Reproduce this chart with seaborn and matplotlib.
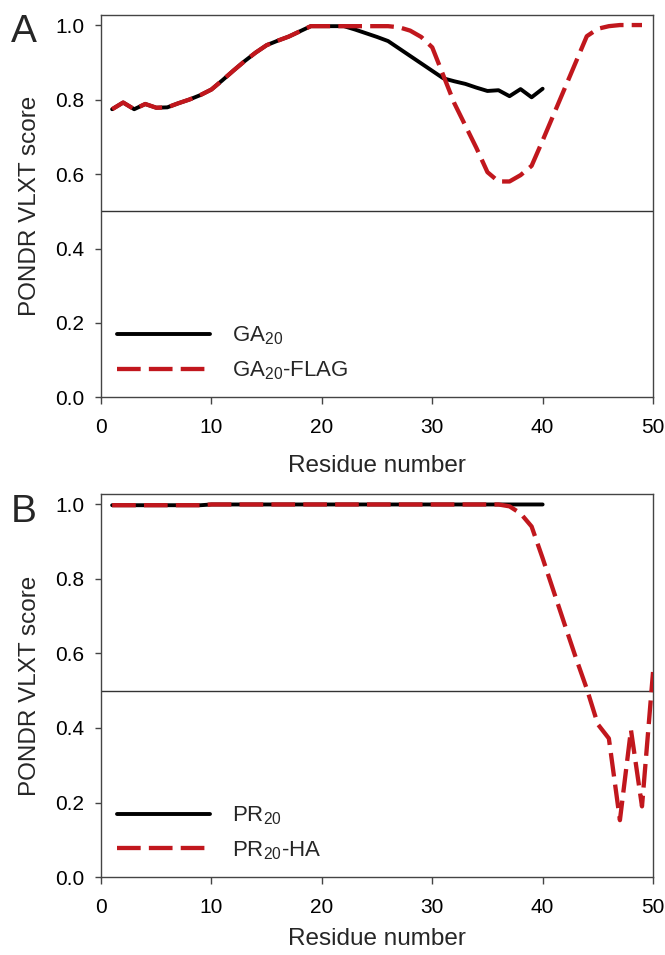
import matplotlib
matplotlib.use("Agg")
import matplotlib.pyplot as plt
import seaborn as sns
import pandas as pd
import numpy as np

# ---------------- data ----------------
ga20_x = list(range(1, 41))
ga20_y = [0.774, 0.792, 0.774, 0.788, 0.778, 0.779, 0.790, 0.800, 0.812, 0.827,
          0.852, 0.878, 0.903, 0.926, 0.946, 0.958, 0.969, 0.983, 0.997, 0.997,
          0.997, 0.997, 0.988, 0.978, 0.968, 0.957, 0.937, 0.917, 0.897, 0.877,
          0.857, 0.849, 0.842, 0.832, 0.823, 0.825, 0.809, 0.828, 0.806, 0.829]

ga20flag_x = list(range(1, 50))
ga20flag_y = [0.774, 0.792, 0.774, 0.788, 0.778, 0.779, 0.790, 0.800, 0.812, 0.827,
              0.852, 0.878, 0.903, 0.926, 0.946, 0.958, 0.969, 0.983, 0.997, 0.997,
              0.997, 0.997, 0.997, 0.997, 0.997, 0.997, 0.994, 0.985, 0.968, 0.940,
              0.865, 0.790, 0.730, 0.670, 0.605, 0.580, 0.580, 0.597, 0.622, 0.690,
              0.760, 0.830, 0.900, 0.970, 0.990, 0.997, 1.000, 1.000, 1.000]

pr20_x = list(range(1, 41))
pr20_y = [0.997] * 9 + [0.999] * 31

pr20ha_x = list(range(1, 51))
pr20ha_y = ([0.997] * 9 + [0.999] * 27 +
            [0.994, 0.975, 0.940, 0.855, 0.766, 0.677, 0.589, 0.505, 0.410, 0.372,
             0.153, 0.395, 0.190, 0.550])

x_ticks = [0, 10, 20, 30, 40, 50]
y_ticks = [0.0, 0.2, 0.4, 0.6, 0.8, 1.0]
threshold = 0.5

panels = [
    ("A", ga20_x, ga20_y, "GA$_{20}$", ga20flag_x, ga20flag_y, "GA$_{20}$-FLAG"),
    ("B", pr20_x, pr20_y, "PR$_{20}$", pr20ha_x, pr20ha_y, "PR$_{20}$-HA"),
]

# ---------------- style ----------------
sns.set_style("ticks")
plt.rcParams["font.family"] = ["Liberation Sans", "DejaVu Sans"]
plt.rcParams["mathtext.default"] = "regular"

RED = "#C1171D"
SPINE = "#444444"

fig = plt.figure(figsize=(6.65, 9.55), dpi=100)
rects = [[0.152, 0.5838, 0.830, 0.4005], [0.152, 0.0814, 0.830, 0.4013]]
letter_y = [0.985, 0.483]
xlabel_pads = [13, 8]

for (letter, x1, y1, l1, x2, y2, l2), rect, ly, xpad in zip(panels, rects, letter_y, xlabel_pads):
    ax = fig.add_axes(rect)
    df1 = pd.DataFrame({"Residue": x1, "Score": y1})
    df2 = pd.DataFrame({"Residue": x2, "Score": y2})
    ax.axhline(threshold, color="#333333", lw=1.0, zorder=1)
    sns.lineplot(data=df1, x="Residue", y="Score", ax=ax, color="black",
                 lw=2.8, label=l1, errorbar=None, zorder=3)
    sns.lineplot(data=df2, x="Residue", y="Score", ax=ax, color=RED,
                 lw=3.1, label=l2, errorbar=None, zorder=4,
                 linestyle=(0, (5.5, 1.9)))
    ax.set_xlim(0, 50)
    ax.set_ylim(0, 1.027)
    ax.set_xticks(x_ticks)
    ax.set_yticks(y_ticks)
    ax.set_xticklabels([str(t) for t in x_ticks])
    ax.set_yticklabels([f"{t:.1f}" for t in y_ticks])
    for s in ax.spines.values():
        s.set_visible(True)
        s.set_color(SPINE)
        s.set_linewidth(1.0)
    ax.tick_params(axis="both", direction="out", colors=SPINE, labelcolor="black",
                   width=1.0, labelsize=15)
    ax.tick_params(axis="y", length=4, pad=8)
    ax.tick_params(axis="x", length=5, pad=10)
    ax.set_xlabel("Residue number", fontsize=17.5, labelpad=xpad)
    ax.set_ylabel("PONDR VLXT score", fontsize=17.5, labelpad=10)
    leg = ax.legend(loc="lower left", bbox_to_anchor=(0.0, 0.0), frameon=False,
                    fontsize=16, handlelength=4.2, handletextpad=1.0,
                    labelspacing=0.55, borderaxespad=0.3)
    fig.text(0.016, ly, letter, fontsize=28, ha="left", va="top")

fig.savefig("out.png", dpi=100)
